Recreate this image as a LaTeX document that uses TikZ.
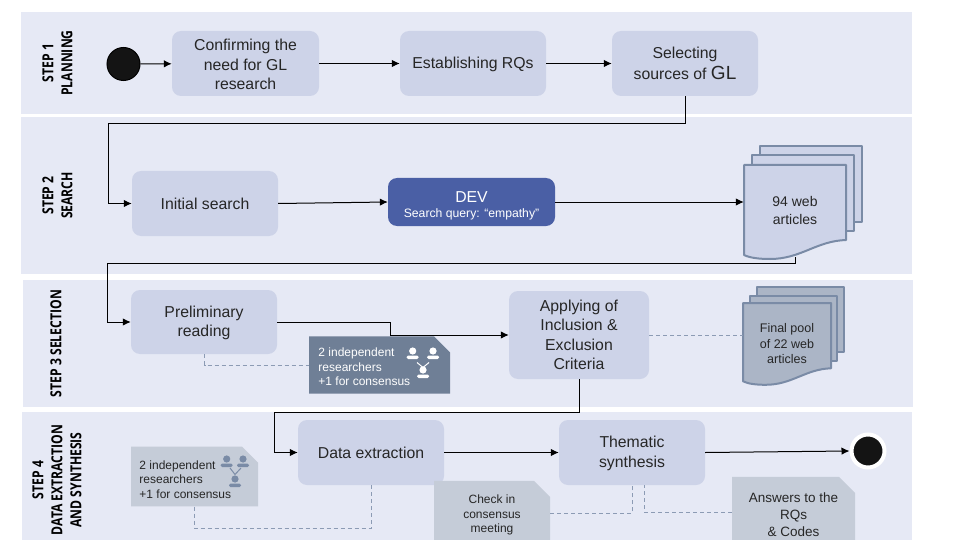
\documentclass[tikz,border=0pt]{standalone}
\usepackage{fontspec}
\setmainfont{Liberation Sans}
\newfontfamily\stepfont[FakeStretch=0.8,BoldFeatures={FakeStretch=0.8}]{Open Sans}
\usetikzlibrary{arrows.meta,shapes.misc,shadows}
\definecolor{bandcol}{HTML}{E6E9F5}
\definecolor{boxcol}{HTML}{CDD3E8}
\definecolor{devcol}{HTML}{4A5FA5}
\definecolor{notedark}{HTML}{6F7F96}
\definecolor{notelight}{HTML}{C5CCD8}
\definecolor{sheetline}{HTML}{7A8BA6}
\definecolor{poolcol}{HTML}{ABB5C6}
\definecolor{linkcol}{HTML}{8C9BB4}
\definecolor{txtcol}{HTML}{262626}
\newcommand{\topgap}[1]{\rule{0pt}{#1}}
\newcommand{\docsheet}[2]{
  \draw[sheet,fill=#2,shift={(#1)}] (0,0) -- (102,0) -- (102,75) .. controls (72,76) and (57,94) .. (26,94) .. controls (16,94) and (6,93) .. (0,90) -- cycle;
}
\begin{document}
\begin{tikzpicture}[x=1pt,y=-1pt]

    \tikzset{
      band/.style={fill=bandcol,draw=none},
      stepbox/.style={
        fill=boxcol,
        rounded corners=9pt,
        minimum width=146pt,
        minimum height=65pt,
        inner sep=0pt,
        align=center,
        text=txtcol,
        font=\fontsize{15.8}{19.5}\selectfont,
      },
      notebox/.style={
        chamfered rectangle,
        chamfered rectangle corners=north east,
        chamfered rectangle xsep=8pt,
        chamfered rectangle ysep=8pt,
        inner sep=0pt,
        text=txtcol,
        font=\fontsize{12}{14.3}\selectfont,
      },
      steplabel/.style={
        rotate=90,
        align=center,
        text=black,
        font=\stepfont\bfseries\fontsize{15.2}{19}\selectfont,
      },
      sheet/.style={draw=sheetline,line width=2pt,line join=round},
      flow/.style={draw=black,line width=1pt,-{Latex[length=8pt,width=7.5pt]}},
      link/.style={draw=linkcol,line width=0.9pt,dashed,dash pattern=on 4pt off 3pt},
      person/.pic={
        \fill (0,-3) circle (3.6);
        \fill[rounded corners=1.5pt] (-6,5) rectangle (6,1.5);
      },
    }
    \useasboundingbox (0,0) rectangle (960,540);

    \fill[band] (21,12) rectangle (912,114);
    \fill[band] (21,117) rectangle (912,274);
    \fill[band] (23,280) rectangle (913,407);
    \fill[band] (22,412) rectangle (912,540);

    \node[steplabel] (lblplan) at (57.5,63) {STEP 1\\PLANNING};
    \node[steplabel] (lblsearch) at (57.5,195.5) {STEP 2\\SEARCH};
    \node[steplabel] (lblselect) at (56,343.5) {STEP 3 SELECTION};
    \node[steplabel] (lbldata) at (57,480) {STEP 4\\DATA EXTRACTION\\AND SYNTHESIS};

    \node[circle,fill=black!92,draw=black,line width=1pt,minimum size=33pt,inner sep=0pt] (start) at (123.5,64) {};
    \node[stepbox,minimum width=147pt] (confirm) at (245.5,63.5) {\topgap{13.5pt}Confirming the\\need for GL\\research};
    \node[stepbox] (establish) at (473,63.5) {\topgap{14pt}Establishing RQs};
    \node[stepbox] (sources) at (685,63.5) {Selecting\\[1.5pt]sources of {\fontsize{19}{19}\selectfont GL}};

    \node[stepbox] (initial) at (205,203.5) {Initial search};
    \node[stepbox,fill=devcol,text=white,minimum width=167pt,minimum height=48pt] (dev) at (471.5,202) {\topgap{19pt}DEV\\[-4pt]{\fontsize{12.2}{14}\selectfont Search query: ``empathy''}};

    \foreach \sx/\sy in {760/146,752/155}{
      \draw[sheet,fill=boxcol] (\sx,\sy) rectangle (\sx+102,\sy+76);
    }
    \docsheet{744,165}{boxcol}
    \node[minimum width=102pt,minimum height=93pt,inner sep=0pt,align=center,text=txtcol,font=\fontsize{14}{17.5}\selectfont] (articles) at (795,210.5) {94 web\\articles};

    \node[stepbox,minimum height=64pt] (prelim) at (204,322) {\topgap{13.5pt}Preliminary\\reading};
    \node[stepbox,minimum width=140pt,minimum height=88pt] (apply) at (579,335) {Applying of\\Inclusion \&\\Exclusion\\Criteria};
    \node[notebox,fill=notedark,text=white,minimum width=141pt,minimum height=54pt,align=left] (noteone) at (379.5,365) {\topgap{12.6pt}2 independent\hspace{46pt}\mbox{}\\researchers\\+1 for consensus};

    \draw[sheet,fill=poolcol] (757,287) rectangle (844,352);
    \draw[sheet,fill=poolcol] (750,296) rectangle (837,361);
    \begin{scope}[yscale=0.87,xscale=0.863]
      \docsheet{861,348.3}{poolcol}
    \end{scope}
    \node[minimum width=88pt,minimum height=81pt,inner sep=0pt,align=center,text=txtcol,font=\fontsize{12.5}{15.5}\selectfont] (pool) at (787,343) {\topgap{11pt}Final pool\\of 22 web\\articles};

    \node[stepbox] (extract) at (371,452.5) {Data extraction};
    \node[stepbox] (thematic) at (632,452.5) {\topgap{13.5pt}Thematic\\synthesis};
    \node[circle,fill=black!92,draw=white,line width=4pt,minimum size=33pt,inner sep=0pt,drop shadow={shadow xshift=0.5pt,shadow yshift=-1.5pt,opacity=0.3}] (finish) at (868,451) {};
    \node[notebox,fill=notelight,minimum width=127pt,minimum height=55pt,align=left] (notetwo) at (194.5,476.5) {\topgap{15pt}2 independent\hspace{34pt}\mbox{}\\researchers\\+1 for consensus};
    \node[notebox,fill=notelight,minimum width=116pt,minimum height=52pt,align=center] (check) at (492,512) {\topgap{15pt}Check in\\consensus\\meeting};
    \node[notebox,fill=notelight,minimum width=123pt,minimum height=56pt,align=center,font=\fontsize{13.5}{17}\selectfont] (answers) at (793.5,511) {\topgap{18pt}Answers to the\\RQs\\\& Codes};

    \foreach \px/\py in {412.7/354,433/354,423/373}{
      \pic[white] at (\px,\py) {person};
    }
    \draw[white,line width=1pt] (417,362.5) -- (423,367.5) -- (429,362.5);
    \foreach \px/\py in {226.7/462,243/462,235/482}{
      \pic[sheetline] at (\px,\py) {person};
    }
    \draw[sheetline,line width=1pt] (230,468) -- (235,474.5) -- (241,468);

    \coordinate (bendone) at (108,124);
    \coordinate (bendtwo) at (107,263.5);
    \coordinate (bendthree) at (390,335);
    \coordinate (bendfour) at (274.5,412.5);
    \coordinate (docfoot) at (795.5,257);

    \draw[flow] (start) -- (confirm);
    \draw[flow] (confirm) -- (establish);
    \draw[flow] (establish) -- (sources);
    \draw[flow] (sources.south) |- (bendone) |- (initial.west);
    \draw[flow] (initial.east) -- (dev.west);
    \draw[flow] (dev.east) -- (dev.east -| articles.west);
    \draw[flow] (docfoot) |- (bendtwo) |- (prelim.west);
    \draw[flow] (prelim.east) -| (bendthree) -- (apply.west);
    \draw[flow] (apply.south) |- (bendfour) |- (extract.west);
    \draw[flow] (extract.east) -- (thematic.west);
    \draw[flow] (thematic.east) -- (finish.west);

    \coordinate (turnone) at (204.5,365);
    \coordinate (turntwo) at (194.5,528.5);
    \coordinate (turnthree) at (632.5,513);
    \coordinate (turnfour) at (644,512);

    \draw[link] (prelim.south -| turnone) -- (turnone) -- (noteone.west |- turnone);
    \draw[link] (apply.east) -- (apply.east -| pool.west);
    \draw[link] (notetwo.south) -- (turntwo) -| (extract.south);
    \draw[link] (check.east |- turnthree) -- (turnthree) -- (turnthree |- thematic.south);
    \draw[link] (answers.west |- turnfour) -- (turnfour) -- (turnfour |- thematic.south);

\end{tikzpicture}
\end{document}
